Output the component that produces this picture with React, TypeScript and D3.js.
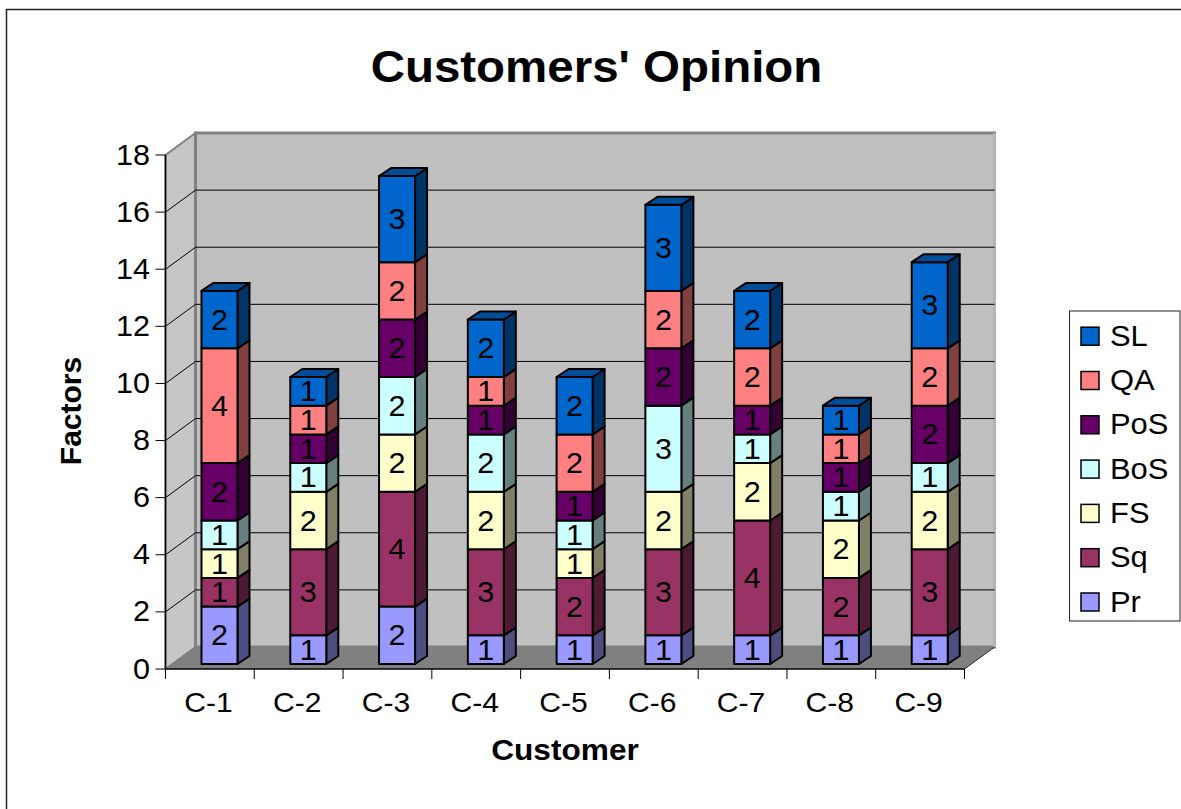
import React from "react";
import * as d3 from "d3";

const categories = ["C-1", "C-2", "C-3", "C-4", "C-5", "C-6", "C-7", "C-8", "C-9"];
const seriesNames = ["Pr", "Sq", "FS", "BoS", "PoS", "QA", "SL"];
const Pr = [2, 1, 2, 1, 1, 1, 1, 1, 1];
const Sq = [1, 3, 4, 3, 2, 3, 4, 2, 3];
const FS = [1, 2, 2, 2, 1, 2, 2, 2, 2];
const BoS = [1, 1, 2, 2, 1, 3, 1, 1, 1];
const PoS = [2, 1, 2, 1, 1, 2, 1, 1, 2];
const QA = [4, 1, 2, 1, 2, 2, 2, 1, 2];
const SL = [2, 1, 3, 2, 2, 3, 2, 1, 3];
const colors = ["#9999FF", "#993366", "#FFFFCC", "#CCFFFF", "#660066", "#FF8080", "#0066CC"];
const yTicks = d3.range(0, 19, 2);

const FONT = "'Liberation Sans', Arial, sans-serif";
const W = 1181, H = 809;
const left = 165.5, right = 964.5, y0 = 669, y18 = 155;
const depthX = 30, depthY = -22;
const barShiftX = 9.6, barW = 36, sideX = 12, sideY = -8;
const STRETCH = 1.055;

const x = d3.scaleBand<string>().domain(categories).range([left, right]);
const y = d3.scaleLinear().domain([0, 18]).range([y0, y18]);
const yBar = d3.scaleLinear().domain([0, 18]).range([664, 147.4]);
const rows = [Pr, Sq, FS, BoS, PoS, QA, SL];

const shade = (c: string, k: number) => {
  const r = d3.rgb(c);
  return d3.rgb(r.r * k, r.g * k, r.b * k).formatHex();
};
const poly = (p: [number, number][]) => p.map((q) => q.join(",")).join(" ");

const T = ({ x: tx, y: ty, size, anchor = "middle", bold = false, children }: any) => (
  <text
    transform={`translate(${tx},${ty}) scale(${STRETCH},1)`}
    fontSize={size}
    fontWeight={bold ? "bold" : "normal"}
    textAnchor={anchor}
    fill="#000"
    stroke="none"
  >
    {children}
  </text>
);

export default function App() {
  const stacked = d3.stack<number>()
    .keys(seriesNames.map((_, i) => String(i)))
    .value((i, k) => rows[+k][i])(categories.map((_, i) => i));

  return (
    <svg width={W} height={H} style={{ position: "absolute", left: 0, top: 0, background: "#fff" }} fontFamily={FONT}>
      <rect x={6.5} y={9.5} width={W + 20} height={H + 20} fill="#fff" stroke="#222" strokeWidth={1.5} />
      <T x={596.5} y={82} size={45} bold>Customers' Opinion</T>

      {/* walls */}
      <polygon points={poly([[left, y18], [left + depthX, y18 + depthY], [left + depthX, y0 + depthY], [left, y0]])} fill="#c6c6c6" stroke="#808080" strokeWidth={2} />
      <rect x={left + depthX} y={y18 + depthY} width={right - left} height={y0 - y18} fill="#c0c0c0" stroke="#808080" strokeWidth={3} />
      <polygon points={poly([[left, y0], [left + depthX, y0 + depthY], [right + depthX, y0 + depthY], [right, y0]])} fill="#808080" />
      <line x1={right} y1={y0} x2={right + depthX} y2={y0 + depthY} stroke="#222" strokeWidth={1} />
      <line x1={right + depthX} y1={y0 + depthY} x2={right + depthX} y2={y18 + depthY} stroke="#b4b4b4" strokeWidth={3} />

      {/* gridlines */}
      {yTicks.filter((t) => t > 0 && t < 18).map((t) => (
        <polyline
          key={t}
          stroke="#000"
          strokeWidth={1}
          fill="none"
          points={poly([[left, y(t)], [left + depthX, y(t) + depthY], [right + depthX, y(t) + depthY]])}
        />
      ))}

      {/* axes */}
      <line x1={left} y1={y18} x2={left} y2={y0} stroke="#000" strokeWidth={1.5} />
      <line x1={left} y1={y0} x2={right} y2={y0} stroke="#000" strokeWidth={1.5} />
      {yTicks.map((t) => (
        <g key={t}>
          <line x1={left - 10} x2={left} y1={y(t)} y2={y(t)} stroke="#000" strokeWidth={1} />
          <T x={left - 15.5} y={y(t) + 9.5} size={29} anchor="end">{t}</T>
        </g>
      ))}
      {d3.range(0, categories.length + 1).map((i) => {
        const tx = left + i * x.step();
        return <line key={i} x1={tx} x2={tx} y1={y0} y2={y0 + 10} stroke="#000" strokeWidth={1} />;
      })}
      {categories.map((c) => (
        <T key={c} x={(x(c) as number) + x.bandwidth() / 2 - 1.5} y={712} size={28.5}>{c}</T>
      ))}

      {/* bars */}
      {categories.map((c, ci) => {
        const bx = (x(c) as number) + x.bandwidth() / 2 + barShiftX - barW / 2;
        return (
          <g key={c} stroke="#000" strokeWidth={2} strokeLinejoin="round">
            {stacked.map((s, si) => {
              const top = yBar(s[ci][1]);
              const bot = yBar(s[ci][0]);
              const col = colors[si];
              const last = si === stacked.length - 1;
              return (
                <g key={si}>
                  <polygon points={poly([[bx + barW, top], [bx + barW + sideX, top + sideY], [bx + barW + sideX, bot + sideY], [bx + barW, bot]])} fill={shade(col, 0.5)} />
                  <rect x={bx} y={top} width={barW} height={bot - top} fill={col} />
                  {last && <polygon points={poly([[bx, top], [bx + sideX, top + sideY], [bx + barW + sideX, top + sideY], [bx + barW, top]])} fill={shade(col, 0.75)} />}
                  <T x={bx + barW / 2} y={(top + bot) / 2 + 10} size={29}>{rows[si][ci]}</T>
                </g>
              );
            })}
          </g>
        );
      })}

      {/* axis titles */}
      <T x={565} y={760} size={30} bold>Customer</T>
      <text transform="translate(81,411) rotate(-90)" fontSize={30} fontWeight="bold" textAnchor="middle">Factors</text>

      {/* legend */}
      <rect x={1069.5} y={311} width={110.5} height={310} fill="#fff" stroke="#222" strokeWidth={1} />
      {seriesNames.map((n, i) => {
        const cy = 602 - i * 44.3;
        return (
          <g key={n}>
            <rect x={1081} y={cy - 9} width={18} height={18} fill={colors[i]} stroke="#000" strokeWidth={1.5} />
            <T x={1110} y={cy + 9.5} size={29.3} anchor="start">{n}</T>
          </g>
        );
      })}
    </svg>
  );
}
